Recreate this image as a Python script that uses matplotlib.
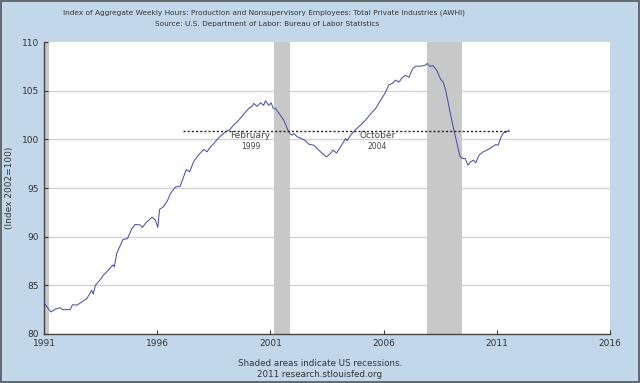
import matplotlib
matplotlib.use('Agg')
import matplotlib.pyplot as plt
from matplotlib.patches import Rectangle

# values (decimal year, index 2002=100)
years = [1991.00, 1991.12, 1991.30, 1991.49, 1991.70, 1991.82, 1992.15, 1992.25, 1992.45, 1992.67,
         1992.89, 1993.10, 1993.17, 1993.26, 1993.45, 1993.62, 1993.85, 1994.04, 1994.10, 1994.21,
         1994.48, 1994.68, 1994.88, 1995.02, 1995.25, 1995.34, 1995.52, 1995.77, 1995.92, 1996.02,
         1996.10, 1996.28, 1996.46, 1996.58, 1996.80, 1997.01, 1997.16, 1997.28, 1997.43, 1997.60,
         1997.82, 1998.05, 1998.20, 1998.35, 1998.50, 1998.62, 1998.79, 1999.01, 1999.20, 1999.37,
         1999.60, 1999.82, 2000.04, 2000.19, 2000.26, 2000.41, 2000.56, 2000.70, 2000.78, 2000.93,
         2001.03, 2001.12, 2001.22, 2001.37, 2001.59, 2001.76, 2001.86, 2001.95, 2002.04, 2002.18,
         2002.36, 2002.55, 2002.70, 2002.92, 2003.10, 2003.29, 2003.48, 2003.65, 2003.77, 2003.92,
         2004.10, 2004.32, 2004.39, 2004.54, 2004.76, 2004.98, 2005.20, 2005.42, 2005.65, 2005.87,
         2006.05, 2006.23, 2006.38, 2006.53, 2006.68, 2006.83, 2006.97, 2007.12, 2007.27, 2007.41,
         2007.63, 2007.81, 2007.93, 2008.05, 2008.17, 2008.35, 2008.52, 2008.63, 2008.74, 2008.89,
         2009.04, 2009.14, 2009.26, 2009.37, 2009.48, 2009.60, 2009.73, 2009.85, 2009.97, 2010.07,
         2010.22, 2010.41, 2010.62, 2010.81, 2010.96, 2011.06, 2011.18, 2011.30, 2011.45, 2011.54]
awhi = [83.2, 82.8, 82.25, 82.55, 82.7, 82.5, 82.5, 83.0, 82.97, 83.3,
        83.65, 84.5, 84.1, 85.0, 85.5, 86.05, 86.6, 87.1, 86.9, 88.3,
        89.7, 89.8, 90.85, 91.26, 91.2, 90.95, 91.5, 92.0, 91.7, 90.95,
        92.8, 93.1, 93.76, 94.45, 95.1, 95.2, 96.16, 96.9, 96.67, 97.7,
        98.4, 98.97, 98.73, 99.24, 99.58, 99.93, 100.34, 100.78, 101.0, 101.47,
        101.98, 102.6, 103.19, 103.4, 103.7, 103.4, 103.76, 103.5, 103.97, 103.5,
        103.76, 103.2, 103.19, 102.7, 101.98, 101.0, 100.6, 100.44, 100.6, 100.27,
        100.1, 99.86, 99.5, 99.4, 98.97, 98.56, 98.2, 98.56, 98.9, 98.6,
        99.24, 100.1, 99.86, 100.44, 101.0, 101.47, 101.98, 102.6, 103.19, 104.04,
        104.7, 105.6, 105.76, 106.1, 105.9, 106.37, 106.6, 106.37, 107.2, 107.53,
        107.53, 107.6, 107.8, 107.5, 107.6, 107.1, 106.17, 105.9, 105.07, 103.35,
        101.64, 100.6, 99.4, 98.28, 98.04, 98.04, 97.36, 97.7, 97.87, 97.6,
        98.4, 98.73, 98.97, 99.24, 99.48, 99.4, 100.2, 100.68, 100.78, 100.95]

recessions = [(1990.9, 1991.22), (2001.17, 2001.87), (2007.92, 2009.46)]
ref_level = 100.9
ref_start, ref_end = 1997.15, 2011.54
xticks = [1991, 1996, 2001, 2006, 2011, 2016]
yticks = [80, 85, 90, 95, 100, 105, 110]

bg = '#c3d7ea'
fig = plt.figure(figsize=(6.4, 3.83), dpi=100, facecolor=bg)
ax = fig.add_axes([0.069, 0.128, 0.884, 0.762])
ax.set_facecolor('white')

for a, b in recessions:
    ax.axvspan(a, b, color='#c8c8c8', lw=0, zorder=1)
for y in yticks[1:-1]:
    ax.axhline(y, color='#d0d0d0', lw=0.9, zorder=0.5)

ax.plot(years, awhi, color='#3b47a6', lw=0.7, zorder=3)
ax.plot([ref_start, ref_end], [ref_level, ref_level], color='#222222', lw=1.0,
        ls=(0, (1.5, 1.5)), zorder=4)

ax.text(2000.12, 100.45, 'February', ha='center', va='center', fontsize=6.5, color='#444444')
ax.text(2000.12, 99.3, '1999', ha='center', va='center', fontsize=5.5, color='#444444')
ax.text(2005.72, 100.45, 'October', ha='center', va='center', fontsize=6.5, color='#444444')
ax.text(2005.72, 99.3, '2004', ha='center', va='center', fontsize=5.5, color='#444444')

ax.set_xlim(1991, 2016)
ax.set_ylim(80, 110)
ax.set_xticks(xticks)
ax.set_yticks(yticks)
ax.tick_params(axis='both', labelsize=6.5, colors='#333333', direction='in', length=3, width=0.8)
for s in ['top', 'right']:
    ax.spines[s].set_visible(False)
for s in ['left', 'bottom']:
    ax.spines[s].set_color('#444444')
    ax.spines[s].set_linewidth(1.0)
ax.set_ylabel('(Index 2002=100)', fontsize=6.5, color='#333333', labelpad=6)

# title block sits a bit left of centre in the original
fig.text(0.413, 0.968, 'Index of Aggregate Weekly Hours: Production and Nonsupervisory Employees: Total Private Industries (AWHI)',
         ha='center', va='center', fontsize=5.3, color='#333333')
fig.text(0.418, 0.937, 'Source: U.S. Department of Labor: Bureau of Labor Statistics',
         ha='center', va='center', fontsize=5.3, color='#333333')
fig.text(0.5, 0.052, 'Shaded areas indicate US recessions.', ha='center', va='center',
         fontsize=6.3, color='#333333')
fig.text(0.5, 0.023, '2011 research.stlouisfed.org', ha='center', va='center',
         fontsize=6.3, color='#333333')

fig.patches.append(Rectangle((0.002, 0.003), 0.996, 0.994, transform=fig.transFigure,
                             fill=False, edgecolor='#555555', lw=1.2))

plt.savefig('out.png', dpi=100, facecolor=bg)
